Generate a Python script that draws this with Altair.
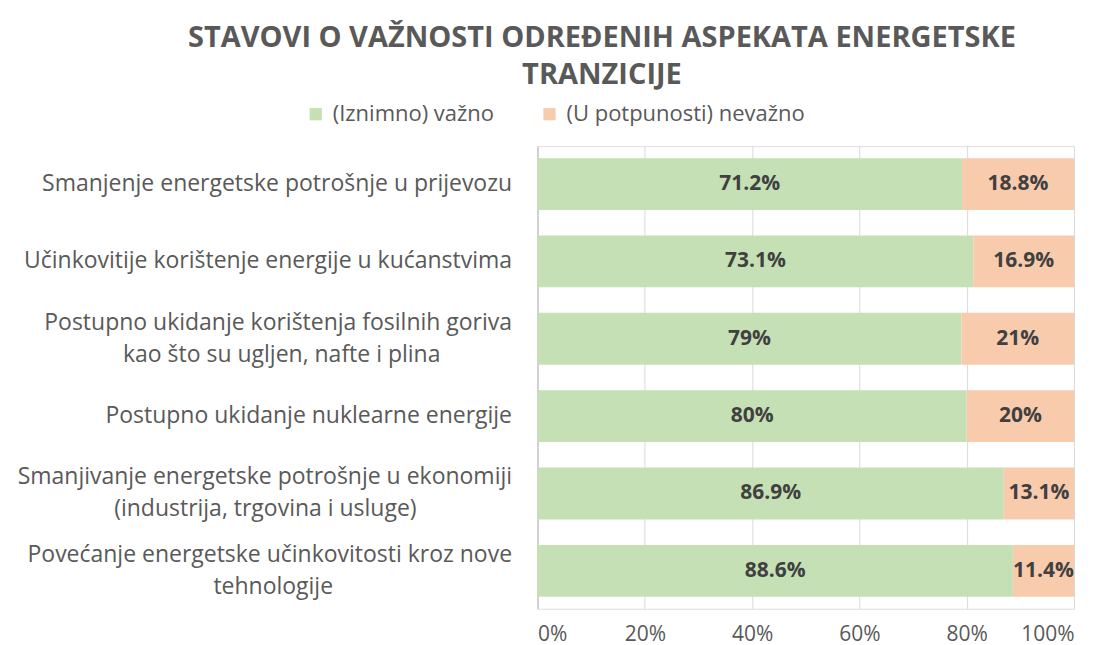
import altair as alt
import pandas as pd

NB = "\u00a0"
ZW = "\u200b"

categories = [
    "Smanjenje energetske potrošnje u prijevozu",
    "Učinkovitije korištenje energije u kućanstvima",
    "Postupno ukidanje korištenja fosilnih goriva|kao što su ugljen, nafte i plina" + NB * 12 + ZW,
    "Postupno ukidanje nuklearne energije",
    "Smanjivanje energetske potrošnje u ekonomiji|(industrija, trgovina i usluge)" + NB * 16 + ZW,
    "Povećanje energetske učinkovitosti kroz nove|tehnologije" + NB * 30 + ZW,
]
important = [71.2, 73.1, 79, 80, 86.9, 88.6]
unimportant = [18.8, 16.9, 21, 20, 13.1, 11.4]
series = ["(Iznimno) važno", "(U potpunosti) nevažno"]
colors = ["#C5E0B4", "#F8CBAD"]

rows = []
for c, a, b in zip(categories, important, unimportant):
    rows.append({"category": c, "series": series[0], "value": a, "order": 0})
    rows.append({"category": c, "series": series[1], "value": b, "order": 1})
df = pd.DataFrame(rows)

FONT = "Open Sans"
GREY = "#595959"

base = alt.Chart(df).transform_stack(
    stack="value",
    groupby=["category"],
    as_=["x0", "x1"],
    offset="normalize",
    sort=[alt.SortField("order", order="ascending")],
).transform_calculate(
    mid="(datum.x0 + datum.x1) / 2",
    label="datum.value + '%'",
)

y_enc = alt.Y(
    "category:N",
    sort=categories,
    title=None,
    scale=alt.Scale(paddingInner=0.33, paddingOuter=0.155),
    axis=alt.Axis(
        labelExpr="split(datum.label, '|')",
        labelFont=FONT,
        labelFontSize=23,
        labelColor=GREY,
        labelPadding=26,
        labelLineHeight=32,
        labelLimit=600,
        labelOffset={"condition": {"test": "indexof(datum.value, '|') >= 0", "value": -16}, "value": 0},
        ticks=False,
        tickSize=0,
        domainColor="#BFBFBF",
        domainWidth=1,
        grid=False,
    ),
)

bars = base.mark_bar().encode(
    y=y_enc,
    x=alt.X(
        "x0:Q",
        title=None,
        scale=alt.Scale(domain=[0, 1], nice=False),
        axis=alt.Axis(
            format="%",
            values=[0, 0.2, 0.4, 0.6, 0.8, 1.0],
            labelFont=FONT,
            labelFontSize=21,
            labelColor=GREY,
            labelPadding=15,
            ticks=False,
            tickSize=0,
            domain=False,
            grid=True,
            gridColor="#D9D9D9",
            gridWidth=1,
        ),
    ),
    x2="x1:Q",
    color=alt.Color(
        "series:N",
        scale=alt.Scale(domain=series, range=colors),
        sort=series,
        title=None,
        legend=alt.Legend(
            orient="none",
            direction="horizontal",
            legendX=-233,
            legendY=-43,
            symbolType="square",
            symbolSize=150,
            symbolStrokeWidth=0,
            labelFont=FONT,
            labelFontSize=22,
            labelColor=GREY,
            labelLimit=400,
            columnPadding=44,
            labelOffset=6,
        ),
    ),
    order=alt.Order("order:Q"),
)

texts = base.mark_text(
    font=FONT, fontSize=21, fontWeight="bold", color="#404040"
).encode(
    y=alt.Y("category:N", sort=categories),
    x=alt.X("mid:Q"),
    text="label:N",
)

chart = (
    alt.layer(bars, texts)
    .properties(
        width=537,
        height=463,
        title=alt.TitleParams(
            text=["STAVOVI O VAŽNOSTI ODREĐENIH ASPEKATA ENERGETSKE", "TRANZICIJE"],
            font=FONT,
            fontSize=29,
            fontWeight="bold",
            color=GREY,
            anchor="middle",
            frame="group",
            dx=-204,
            offset=13,
            lineHeight=37,
        ),
        autosize=alt.AutoSizeParams(type="none"),
        padding={"left": 530, "top": 138, "right": 20, "bottom": 38},
    )
    .configure_view(stroke=None)
    .configure(background="white")
)

chart.save("out.html", embed_options={"renderer": "svg", "actions": False})
